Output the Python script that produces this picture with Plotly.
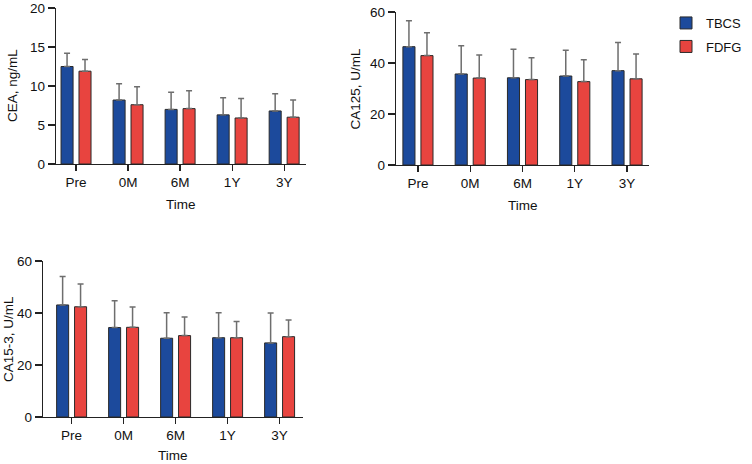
import plotly.graph_objects as go

W, H = 752, 464

categories = ["Pre", "0M", "6M", "1Y", "3Y"]

cea_tbcs = [12.5, 8.2, 7.0, 6.3, 6.8]
cea_tbcs_top = [14.2, 10.3, 9.2, 8.5, 9.0]
cea_fdfg = [11.9, 7.6, 7.1, 5.9, 6.0]
cea_fdfg_top = [13.4, 9.9, 9.4, 8.4, 8.2]

ca125_tbcs = [46.4, 35.7, 34.2, 34.9, 37.0]
ca125_tbcs_top = [56.6, 46.8, 45.4, 45.0, 48.0]
ca125_fdfg = [42.9, 34.1, 33.5, 32.7, 33.8]
ca125_fdfg_top = [51.9, 43.1, 42.1, 41.3, 43.5]

ca153_tbcs = [43.1, 34.4, 30.3, 30.5, 28.5]
ca153_tbcs_top = [54.0, 44.7, 40.1, 40.1, 40.0]
ca153_fdfg = [42.4, 34.5, 31.3, 30.5, 30.9]
ca153_fdfg_top = [51.2, 42.3, 38.5, 36.7, 37.3]

series_names = ["TBCS", "FDFG"]
colors = ["#1c4a9c", "#e8443f"]

panels = [
    dict(ax="", tb=cea_tbcs, tbt=cea_tbcs_top, fd=cea_fdfg, fdt=cea_fdfg_top,
         ymax=20, dtick=5, title="CEA, ng/mL",
         px=(56, 306), py=(8, 164), xr=[-0.385, 4.42], tx=13, tity=204),
    dict(ax="2", tb=ca125_tbcs, tbt=ca125_tbcs_top, fd=ca125_fdfg, fdt=ca125_fdfg_top,
         ymax=60, dtick=20, title="CA125, U/mL",
         px=(396, 649), py=(12, 165), xr=[-0.42, 4.42], tx=355, tity=205),
    dict(ax="3", tb=ca153_tbcs, tbt=ca153_tbcs_top, fd=ca153_fdfg, fdt=ca153_fdfg_top,
         ymax=60, dtick=20, title="CA15-3, U/mL",
         px=(43, 303), py=(261, 417), xr=[-0.55, 4.45], tx=8, tity=455),
]

FONT = "Liberation Sans, Arial, Helvetica, sans-serif"
LINE = "#222222"
ERR = "#6e6e6e"
TXT = "#111111"

fig = go.Figure()
layout = {}
annotations = []
legend_keys = ["legend", "legend2"]

for i, p in enumerate(panels):
    xa = "x" + p["ax"]
    ya = "y" + p["ax"]
    for j, (vals, tops) in enumerate([(p["tb"], p["tbt"]), (p["fd"], p["fdt"])]):
        fig.add_trace(go.Bar(
            x=categories, y=vals, name=series_names[j],
            marker=dict(color=colors[j], line=dict(color="#2a2a2a", width=1)),
            error_y=dict(type="data", symmetric=False,
                         array=[t - v for t, v in zip(tops, vals)],
                         arrayminus=[0] * len(vals),
                         color=ERR, thickness=1.5, width=3),
            xaxis=xa, yaxis=ya, showlegend=(i == 0),
            legend=legend_keys[j],
        ))
    xkey = "xaxis" + p["ax"]
    ykey = "yaxis" + p["ax"]
    layout[xkey] = dict(
        domain=[p["px"][0] / W, p["px"][1] / W], anchor=ya,
        range=p["xr"], type="category", automargin=False,
        showline=True, linecolor=LINE, linewidth=1.2,
        ticks="outside", ticklen=6, tickcolor=LINE, tickwidth=1.2,
        showgrid=False, zeroline=False,
        tickfont=dict(family=FONT, size=13.5, color=TXT),
    )
    layout[ykey] = dict(
        domain=[1 - p["py"][1] / H, 1 - p["py"][0] / H], anchor=xa,
        range=[0, p["ymax"]], dtick=p["dtick"], tick0=0, automargin=False,
        showline=True, linecolor=LINE, linewidth=1.2,
        ticks="outside", ticklen=7, tickcolor=LINE, tickwidth=1.2,
        showgrid=False, zeroline=False,
        tickfont=dict(family=FONT, size=13.5, color=TXT),
    )
    annotations.append(dict(
        text=p["title"], x=p["tx"] / W, y=1 - (p["py"][0] + p["py"][1]) / 2 / H,
        xref="paper", yref="paper", xanchor="center", yanchor="middle",
        textangle=-90, showarrow=False,
        font=dict(family=FONT, size=13.5, color=TXT),
    ))
    annotations.append(dict(
        text="Time", x=(p["px"][0] + p["px"][1]) / 2 / W, y=1 - p["tity"] / H,
        xref="paper", yref="paper", xanchor="center", yanchor="middle",
        showarrow=False, font=dict(family=FONT, size=13.5, color=TXT),
    ))

leg_common = dict(xanchor="left", yanchor="middle",
                  font=dict(family=FONT, size=13, color=TXT),
                  bgcolor="rgba(0,0,0,0)", borderwidth=0, itemwidth=30)

fig.update_layout(
    **layout,
    annotations=annotations,
    width=W, height=H,
    margin=dict(l=0, r=0, t=0, b=0, pad=0, autoexpand=False),
    paper_bgcolor="white", plot_bgcolor="white",
    barmode="group", bargap=0.31, bargroupgap=0.33,
    legend=dict(x=666 / W, y=1 - 23 / H, **leg_common),
    legend2=dict(x=666 / W, y=1 - 46.5 / H, **leg_common),
    font=dict(family=FONT, size=13.5),
)

fig.write_html("out.html",
               config={"displayModeBar": False, "staticPlot": True},
               post_script="document.body.style.margin='0px';"
                           "document.body.style.overflow='hidden';")
